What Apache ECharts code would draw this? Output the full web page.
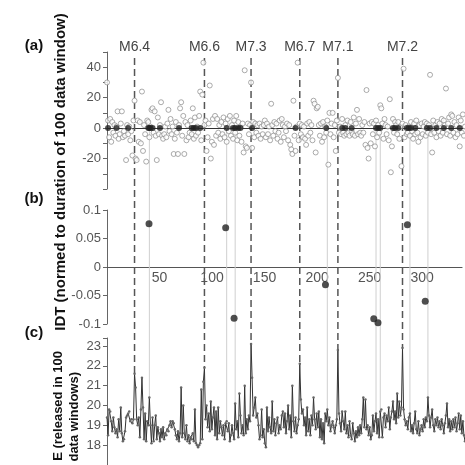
<!DOCTYPE html>
<html>
<head>
<meta charset="utf-8">
<script src="https://cdn.jsdelivr.net/npm/echarts@6/dist/echarts.min.js"></script>
<style>
  html, body { margin: 0; padding: 0; background: #fff; }
  #main { width: 465px; height: 465px; }
</style>
</head>
<body>
<div id="main"></div>
<script>
// earthquakes (dashed lines)
var quakeX = [26, 92, 136, 182, 218, 279];
var quakeNames = ['M6.4', 'M6.6', 'M7.3', 'M6.7', 'M7.1', 'M7.2'];

// (a) one value per data window, x = 0..338
var scatterVals = [
  30, 5, -6, 6, -9, 4, -3, 2, -5, 1,
  11, -7, -4, 3, 11, -6, -2, -5, -21, 2,
  -4, 1, -8, -2, -18, 5, 18, -20, -21, 5,
  -9, 4, -10, 24, -15, 2, -4, -22, 5, 4,
  -6, 1, 12, 13, -3, 11, -5, -21, 7, -4,
  2, 17, -5, -7, -4, 1, -6, 3, 12, -2,
  6, -4, 1, -17, -7, 4, -3, -17, 2, 13,
  17, -5, 8, -17, 4, -8, 2, -6, -3, 5,
  -4, 13, -7, 7, -5, 1, -3, 8, 24, -8,
  22, 43, 2, 5, -15, -6, 3, 28, -20, -9,
  6, -11, 8, -5, 6, -3, 2, -7, 4, -4,
  7, -6, 3, -9, 6, -2, 8, -5, 2, -7,
  5, -3, 8, -8, 4, -5, 1, -9, 3, -16,
  38, -12, -13, 3, -4, 2, 30, -13, 4, -6,
  3, -3, 2, -5, 3, -7, 1, -4, 2, 5,
  -6, 3, -4, 1, -8, 16, 2, -5, 4, -2,
  3, -7, -3, 5, -9, 6, 2, -6, 1, -2,
  3, -8, 2, -11, -14, -17, 18, -5, -15, 1,
  43, -8, 3, -4, 2, -6, 1, -7, -11, 3,
  -5, 4, -3, 2, -8, 18, 16, -16, 13, 14,
  2, -5, 3, -9, 4, -6, 1, -3, 5, -24,
  10, -4, 3, 10, -6, 2, -15, 5, 33, -3,
  1, -4, 6, -3, -5, 2, -4, 5, -3, -5,
  4, -2, -4, 7, -5, 3, 12, -4, 6, -3,
  -5, 2, -3, 4, -11, 25, -13, -20, 3, -10,
  4, -4, 3, -12, 5, -6, 2, -3, 15, 13,
  3, -7, 6, 2, -4, 1, -8, 19, -29, -12,
  6, -3, 4, 2, -4, 4, -7, 1, -25, 3,
  39, -6, 2, -4, -3, 1, -5, 4, -2, -7,
  3, -4, 5, -3, -9, 2, -6, 3, -4, 1,
  4, -5, 3, -3, 2, 35, -4, -16, 5, -3,
  2, -6, 4, -2, 3, -5, 6, -3, 5, 2,
  26, -4, 3, 7, -5, 9, 8, -3, 4, -6,
  2, -4, 7, -12, 5, -3, 9, -5, 1
];
// (a) filled dots sitting on the zero line
var zeroDotX = [1, 9, 20, 39, 40, 41, 43, 50, 68, 80, 82, 84, 88, 113, 119, 121, 124, 126,
  137, 178, 207, 222, 225, 231, 254, 256, 258, 270, 272, 275, 283, 285, 287, 291,
  302, 305, 311, 318, 325, 333];

// (b) IDT
var idtX = [40, 113, 121, 208, 254, 258, 286, 303];
var idtVals = [0.076, 0.069, -0.09, -0.031, -0.091, -0.098, 0.074, -0.06];

// (c) energy per window, x = 0..338
var energyVals = [
  19.4, 18.5, 19.8, 19.7, 19.2, 18.7, 19.4, 18.9, 18.6, 18.8,
  18.4, 19.3, 18.7, 19.9, 18.6, 18.2, 18.3, 18.7, 19.4, 19.5,
  19.6, 19.7, 19.2, 19.3, 19.1, 19.3, 21.6, 20.9, 19.3, 19.0,
  19.4, 18.4, 19.8, 21.4, 19.9, 18.3, 19.6, 18.2, 19.2, 19.0,
  20.4, 19.0, 18.1, 19.4, 18.2, 19.0, 19.5, 18.3, 18.9, 18.6,
  18.2, 18.8, 18.4, 18.9, 18.3, 18.6, 18.5, 18.8, 18.7, 19.0,
  19.2, 18.9, 19.2, 19.1, 18.8, 18.5, 18.3, 18.7, 18.2, 18.6,
  20.9, 18.4, 20.0, 18.6, 18.3, 19.0, 18.2, 18.5, 18.1, 18.4,
  18.3, 18.6, 18.2, 19.8, 18.1, 18.0, 17.9, 18.0, 18.1, 20.8,
  18.3, 21.2, 21.9, 19.3, 20.0, 18.9, 19.6, 18.7, 20.2, 18.8,
  19.4, 19.9, 18.5, 19.7, 18.3, 19.9, 18.6, 19.2, 18.9, 18.5,
  19.0, 18.3, 19.1, 19.2, 18.7, 19.1, 18.2, 18.5, 19.0, 18.6,
  18.3, 20.1, 18.8, 19.2, 18.4, 20.6, 19.5, 18.6, 19.0, 18.5,
  21.0, 18.6, 19.3, 18.8, 19.5, 19.2, 23.1, 21.4, 19.5, 19.9,
  20.4, 19.4, 19.6, 19.0, 18.3, 18.5, 19.8, 18.4, 18.8, 18.1,
  17.9, 19.9, 18.7, 19.4, 18.9, 18.6, 20.2, 18.7, 19.3, 18.5,
  19.1, 19.4, 18.6, 19.0, 18.8, 19.5, 19.7, 18.9, 19.6, 18.6,
  19.2, 20.0, 18.8, 19.5, 18.4, 21.0, 19.2, 18.7, 19.4, 18.6,
  19.0, 19.3, 22.1, 20.3, 19.6, 19.8, 19.0, 19.4, 18.5, 19.9,
  18.7, 19.3, 18.5, 19.5, 19.0, 20.4, 19.3, 18.8, 19.6, 18.9,
  19.7, 18.4, 19.3, 18.3, 19.1, 18.1, 19.6, 19.2, 19.8, 19.0,
  19.4, 18.7, 19.0, 19.2, 18.9, 18.6, 19.0, 19.3, 22.8, 19.6,
  19.1, 18.7, 19.7, 19.2, 18.8, 19.7, 18.6, 19.0, 18.4, 19.2,
  18.5, 18.3, 19.1, 18.6, 18.2, 18.7, 18.4, 18.9, 18.5, 19.0,
  18.6, 19.3, 20.4, 18.9, 20.3, 18.8, 19.0, 18.5, 18.9, 18.3,
  18.5, 19.5, 18.7, 19.2, 19.6, 18.6, 19.3, 18.4, 19.7, 19.8,
  18.4, 19.4, 19.6, 18.9, 19.5, 19.2, 19.9, 18.8, 19.4, 19.7,
  20.2, 19.3, 19.7, 19.1, 20.6, 19.4, 20.2, 19.5, 19.9, 22.9,
  19.8, 19.3, 19.0, 19.2, 18.8, 19.4, 19.6, 18.7, 19.0, 18.6,
  19.1, 19.7, 18.8, 18.6, 19.2, 18.5, 18.8, 19.0, 18.7, 19.3,
  18.9, 19.4, 19.2, 20.4, 19.5, 18.9, 19.4, 19.8, 19.0, 18.7,
  19.3, 19.0, 19.4, 18.9, 19.2, 18.8, 19.3, 19.0, 18.6, 19.1,
  19.5, 20.1, 18.9, 19.3, 18.7, 19.2, 18.8, 19.3, 18.9, 19.4,
  18.7, 19.1, 19.6, 18.8, 19.5, 18.6, 19.2, 18.5, 18.2
];

// tick labels shown
var xTicksB = [50, 100, 150, 200, 250, 300];
var yTicksA = [-20, 0, 20, 40];
var yTicksC = [18, 19, 20, 21, 22, 23];

var FONT = "'Liberation Sans Narrow', 'Liberation Sans', Arial, sans-serif";
var tickLabel = { color: '#555', fontSize: 13, fontFamily: FONT };

var chart = echarts.init(document.getElementById('main'));

var scatterData = scatterVals.map(function (v, i) { return [i, v]; });
var zeroData = zeroDotX.map(function (x) { return [x, 0]; });
var idtData = idtX.map(function (x, i) { return [x, idtVals[i]]; });
var energyData = energyVals.map(function (v, i) { return [i, v]; });

function yAxisOf(grid, min, max, interval, shown) {
  return {
    type: 'value', gridIndex: grid, min: min, max: max, interval: interval,
    axisLine: { show: true, lineStyle: { color: '#666', width: 1 } },
    axisTick: { show: true, length: 4, lineStyle: { color: '#666' } },
    splitLine: { show: false },
    axisLabel: Object.assign({
      margin: 6,
      formatter: function (v) {
        var r = +v.toFixed(3);
        return shown.indexOf(r) >= 0 ? String(r) : '';
      }
    }, tickLabel)
  };
}

// panel (b): height 114 for -0.1..0.1, so zero sits 57px above the bottom edge
var gridBHeight = 114;

var option = {
  animation: false,
  grid: [
    { left: 107, right: 0, top: 52, height: 137 },
    { left: 107, right: 0, top: 210, height: gridBHeight },
    { left: 107, right: 0, top: 338, height: 141 }
  ],
  xAxis: [
    {
      type: 'value', gridIndex: 0, min: 0, max: 338,
      axisLine: { onZero: true, lineStyle: { color: '#333', width: 1.2 } },
      axisTick: { show: false }, axisLabel: { show: false }, splitLine: { show: false }
    },
    {
      type: 'value', gridIndex: 1, min: 0, max: 338, interval: 50,
      position: 'bottom', offset: -gridBHeight / 2,
      axisLine: { onZero: false, lineStyle: { color: '#555', width: 1.2 } },
      axisTick: { show: false }, splitLine: { show: false },
      axisLabel: Object.assign({
        margin: 4,
        formatter: function (v) { return xTicksB.indexOf(v) >= 0 ? String(v) : ''; }
      }, tickLabel, { fontSize: 14 })
    },
    {
      type: 'value', gridIndex: 2, min: 0, max: 338, show: false
    }
  ],
  yAxis: [
    yAxisOf(0, -40, 50, 10, yTicksA),
    yAxisOf(1, -0.1, 0.1, 0.05, [-0.1, -0.05, 0, 0.05, 0.1]),
    yAxisOf(2, 17, 23.4, 1, yTicksC)
  ],
  series: [
    {
      type: 'scatter', xAxisIndex: 0, yAxisIndex: 0, data: scatterData,
      symbol: 'circle', symbolSize: 5, z: 3,
      itemStyle: { color: '#fff', borderColor: '#8a8a8a', borderWidth: 0.9 }
    },
    {
      type: 'scatter', xAxisIndex: 0, yAxisIndex: 0, data: zeroData,
      symbol: 'circle', symbolSize: 6, z: 4,
      itemStyle: { color: '#222' }
    },
    {
      type: 'scatter', xAxisIndex: 1, yAxisIndex: 1, data: idtData,
      symbol: 'circle', symbolSize: 7, z: 4,
      itemStyle: { color: '#222' }
    },
    {
      type: 'line', xAxisIndex: 2, yAxisIndex: 2, data: energyData,
      symbol: 'circle', symbolSize: 2.5, showSymbol: true, z: 3,
      lineStyle: { color: '#333', width: 1 },
      itemStyle: { color: '#666' }
    }
  ]
};
chart.setOption(option);

// vertical guide lines spanning the three panels, placed via the axes
function px(grid, x, y) { return chart.convertToPixel({ gridIndex: grid }, [x, y]); }
var graphics = [];
idtX.forEach(function (x) {
  var a = px(0, x, 0), b = px(2, x, energyVals[x]);
  graphics.push({
    type: 'line', z: 1,
    shape: { x1: a[0], y1: a[1], x2: b[0], y2: b[1] },
    style: { stroke: '#cfcfcf', lineWidth: 1 }
  });
});
quakeX.forEach(function (x, i) {
  var a = px(0, x, 46), b = px(2, x, energyVals[x]), t = px(0, x, 53.5);
  graphics.push({
    type: 'line', z: 2,
    shape: { x1: a[0], y1: a[1], x2: b[0], y2: b[1] },
    style: { stroke: '#555', lineWidth: 1.5, lineDash: [7, 4] }
  });
  graphics.push({
    type: 'text', z: 10, x: t[0], y: t[1],
    style: {
      text: quakeNames[i], fill: '#444', font: '14px ' + FONT,
      align: 'center', verticalAlign: 'middle', textAlign: 'center', textVerticalAlign: 'middle'
    }
  });
});
function label(txt, x, y, size, rot, align) {
  return {
    type: 'text', z: 10, x: x, y: y, rotation: rot || 0,
    style: {
      text: txt, fill: '#111', font: 'bold ' + size + 'px ' + FONT,
      align: align || 'center', verticalAlign: 'middle',
      textAlign: align || 'center', textVerticalAlign: 'middle'
    }
  };
}
graphics.push(label('(a)', 34, 46, 15));
graphics.push(label('(b)', 34, 199, 15));
graphics.push(label('(c)', 34, 333, 15));
graphics.push(label('IDT (normed to duration of 100 data window)', 61, 172, 15, Math.PI / 2));
graphics.push(label('E (released in 100', 58, 351, 13, Math.PI / 2, 'right'));
graphics.push(label('data windows)', 74, 372, 13, Math.PI / 2, 'right'));

chart.setOption({ graphic: graphics });
</script>
</body>
</html>
